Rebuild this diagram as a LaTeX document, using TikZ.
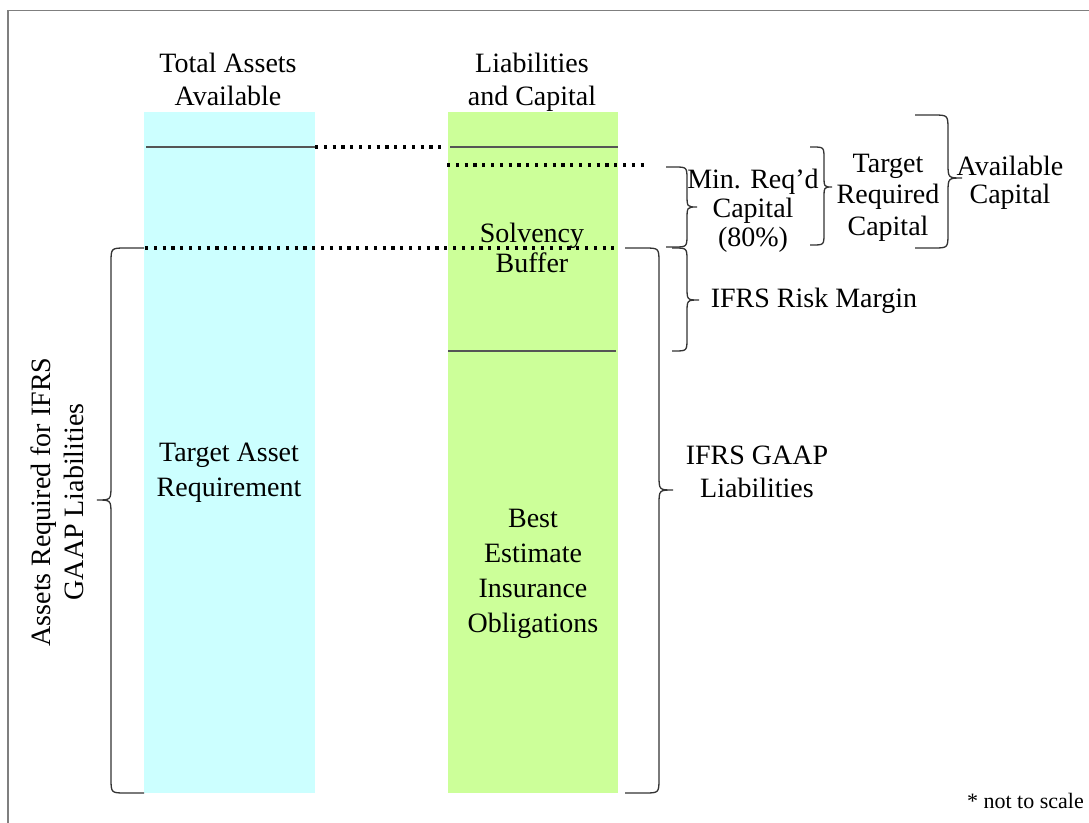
\documentclass[tikz,border=0pt]{standalone}
\usepackage{fontspec}
\setmainfont{Liberation Serif}
\definecolor{assetblue}{HTML}{CCFFFF}
\definecolor{liabgreen}{HTML}{CCFF99}
\definecolor{framegray}{HTML}{7F7F7F}
\definecolor{rulegray}{HTML}{555555}
\definecolor{bracegray}{HTML}{333333}
% #1 end x, #2 spine x, #3 tip x, #4 top y, #5 tip y, #6 bottom y, #7 radius
\newcommand\mybrace[7]{%
  \draw[bracestyle] (#1,#4) -- ({#2+#7*sign(#1-#2)},#4)
    .. controls (#2,#4) .. (#2,{#4+#7}) -- (#2,{#5-#7})
    .. controls (#2,#5) .. (#3,#5)
    .. controls (#2,#5) .. (#2,{#5+#7}) -- (#2,{#6-#7})
    .. controls (#2,#6) .. ({#2+#7*sign(#1-#2)},#6) -- (#1,#6);}
\tikzset{
  bar/.style={draw=none, inner sep=0pt, minimum width=170pt, minimum height=681pt},
  lbl/.style={align=center, inner sep=0pt, text=black},
  rulesolid/.style={draw=rulegray, line width=1.3pt},
  dotline/.style={draw=black, line width=3.4pt, dash pattern=on 3.2pt off 5.6pt},
  bracestyle/.style={draw=bracegray, line width=1.3pt},
  frameline/.style={draw=framegray, line width=1.5pt}
}
\begin{document}
\begin{tikzpicture}[x=1pt, y=-1pt]
\useasboundingbox (0,0) rectangle (1089,822);
% frame
\draw[frameline] (8,900) -- (8,10.5) -- (1200,10.5);
% bars
\node[bar, fill=assetblue, minimum width=171pt] (assets) at (229.5,452.5) {};
\node[bar, fill=liabgreen] (liab) at (533,452.5) {};
% coordinates
\coordinate (a1L) at (146,147);
\coordinate (a1R) at (315,147);
\coordinate (l1L) at (450,147);
\coordinate (l1R) at (618,147);
\coordinate (d1e) at (443,147);
\coordinate (d2s) at (447,165);
\coordinate (d2e) at (648,165);
\coordinate (d3s) at (145,248);
\coordinate (d3e) at (614,248);
\coordinate (l2L) at (448,351);
\coordinate (l2R) at (616,351);
% rules
\draw[rulesolid] (a1L) -- (a1R);
\draw[rulesolid] (l1L) -- (l1R);
\draw[rulesolid] (l2L) -- (l2R);
% dotted lines
\draw[dotline] (a1R) -- (d1e);
\draw[dotline] (d2s) -- (d2e);
\draw[dotline] (d3s) -- (d3e);
% braces
\mybrace{144}{111}{97}{248}{500}{793}{15}
\mybrace{625}{659}{673}{248}{490}{793}{15}
\mybrace{672}{687}{699}{248}{300}{351}{13}
\mybrace{666}{687}{697}{167}{207}{247}{13}
\mybrace{810}{824}{832}{147}{187}{245}{12}
\mybrace{915}{948}{962}{115}{178}{248}{15}
% labels
\node[lbl, font=\fontsize{28}{33}\selectfont] (tassets) at (228,79.3) {Total Assets\\Available};
\node[lbl, font=\fontsize{28}{33}\selectfont] (tliab) at (532,82.3) {Liabilities\\and Capital};
\node[lbl, font=\fontsize{28}{30}\selectfont] (solv) at (532,247.8) {Solvency\\Buffer};
\node[lbl, font=\fontsize{28}{35}\selectfont] (tar) at (229,472.3) {Target Asset\\Requirement};
\node[lbl, font=\fontsize{28}{34.7}\selectfont] (beio) at (533,573.8) {Best\\Estimate\\Insurance\\Obligations};
\node[lbl, font=\fontsize{28}{33}\selectfont] (gaap) at (757,472.3) {IFRS GAAP\\Liabilities};
\node[lbl, font=\fontsize{28}{33}\selectfont] (risk) at (814,300.7) {IFRS Risk Margin};
\node[lbl, font=\fontsize{28}{29}\selectfont] (minreq) at (753,210.7) {Min. Req’d\\Capital\\(80\%)};
\node[lbl, font=\fontsize{28}{31.5}\selectfont] (trc) at (888,197.5) {Target\\Required\\Capital};
\node[lbl, font=\fontsize{28}{28}\selectfont] (avc) at (1010,182.8) {Available\\Capital};
\node[lbl, font=\fontsize{22}{26}\selectfont, anchor=base east] (nts) at (1084,808) {* not to scale};
\node[lbl, font=\fontsize{28}{33}\selectfont, rotate=90] (arq) at (57.3,502) {Assets Required for IFRS\\GAAP Liabilities};
\end{tikzpicture}
\end{document}
